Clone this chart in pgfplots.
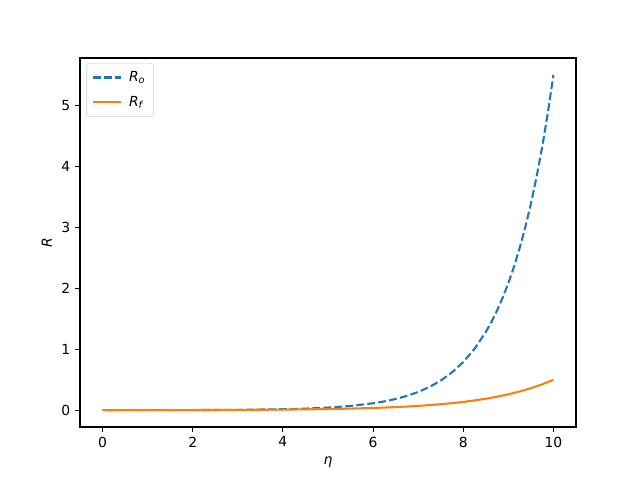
\documentclass[border=0pt]{standalone}
\usepackage{fontspec}
\usepackage{amsmath}
\setmainfont{DejaVu Sans}
\usepackage{pgfplots}
\pgfplotsset{compat=1.18}
\definecolor{c0}{HTML}{1F77B4}
\definecolor{c1}{HTML}{FF7F0E}
\begin{document}
\fontsize{10}{12}\selectfont
\begin{tikzpicture}
\path[use as bounding box] (0,0) rectangle (460.8pt,345.6pt);
\begin{axis}[
  at={(57.6pt,38.16pt)}, anchor=south west,
  scale only axis, width=357.12pt, height=265.68pt,
  xmin=-0.5, xmax=10.5, ymin=-0.275, ymax=5.775,
  xtick={0,2,4,6,8,10}, ytick={0,1,2,3,4,5},
  tick align=outside, tick pos=left,
  major tick length=3.5pt,
  every tick/.style={line width=0.8pt, black},
  axis line style={line width=0.8pt},
  /pgf/number format/assume math mode=true,
  tick label style={font=\fontsize{10}{12}\selectfont},
  xlabel={\textit{η}}, ylabel={\textit{R}},
  label style={font=\fontsize{10}{12}\selectfont},
  legend style={draw=black!20, rounded corners=2pt, font=\fontsize{10}{12}\selectfont, at={(0.013,0.987)}, anchor=north west, row sep=5pt, column sep=3pt, inner xsep=4pt, inner ysep=4pt},
  legend cell align=left,
  legend image code/.code={\draw[#1] (0pt,0pt) -- (20pt,0pt);},
]
\addplot[c0, line width=1.5pt, dash pattern=on 5.55pt off 2.4pt] coordinates {
(0,0.00034) (1,0.00089) (2,0.0023) (3,0.0062) (4,0.0163) (4.5,0.0265) (5,0.043) (5.5,0.070)
(6,0.1136) (6.25,0.1448) (6.5,0.1845) (6.75,0.2351) (7,0.2996) (7.25,0.3818) (7.5,0.4866)
(7.75,0.620) (8,0.790) (8.25,1.007) (8.5,1.284) (8.625,1.449) (8.75,1.636) (8.875,1.847) (9,2.085)
(9.125,2.353) (9.25,2.657) (9.375,3.0) (9.5,3.386) (9.625,3.823) (9.75,4.316) (9.875,4.872) (10,5.5)
};
\addlegendentry{\textit{R}$_{\textit{o}}$}
\addplot[c1, line width=1.5pt] coordinates {
(0,0.00075) (1,0.00144) (2,0.0028) (3,0.0053) (4,0.0101) (5,0.0194) (5.5,0.0268) (6,0.0371)
(6.25,0.0437) (6.5,0.0514) (6.75,0.0605) (7,0.0711) (7.25,0.0837) (7.5,0.0985) (7.75,0.1158)
(8,0.136) (8.25,0.1603) (8.5,0.189) (8.75,0.2219) (9,0.261) (9.25,0.3071) (9.5,0.361) (9.75,0.425) (10,0.5)
};
\addlegendentry{\textit{R}$_{\textit{f}}$}
\end{axis}
\end{tikzpicture}
\end{document}
